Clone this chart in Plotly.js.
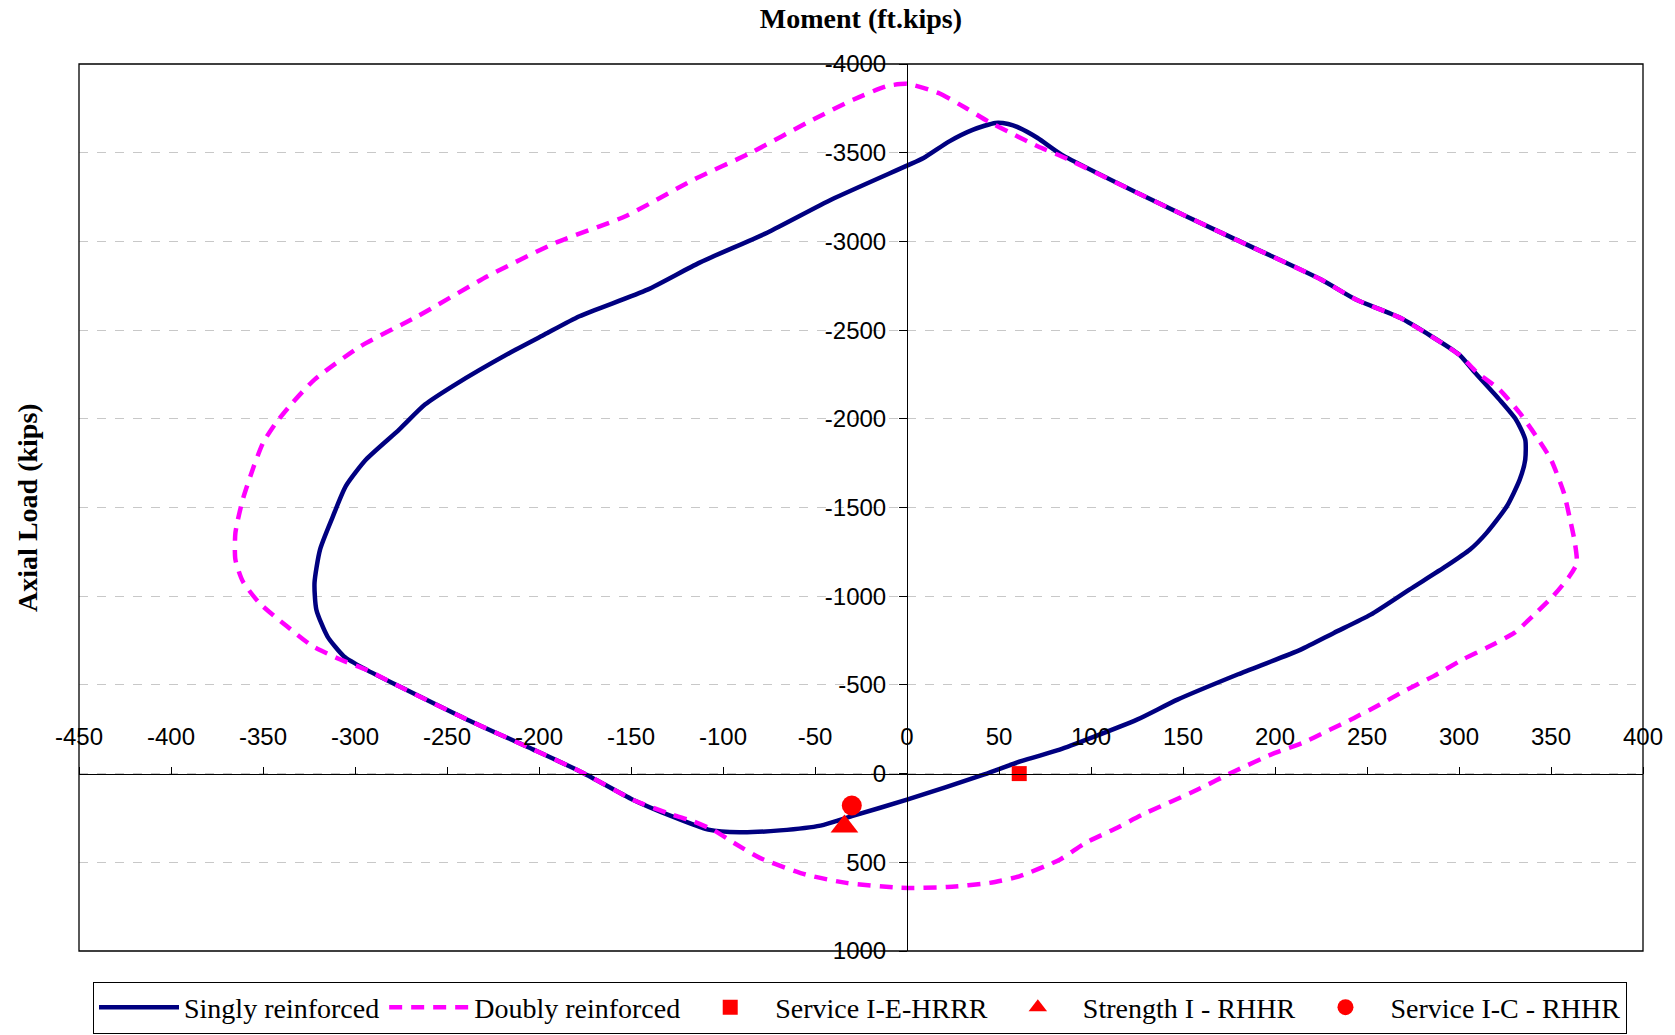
<!DOCTYPE html>
<html>
<head>
<meta charset="utf-8">
<script src="https://cdn.plot.ly/plotly-3.0.1.min.js"></script>
<style>html,body{margin:0;padding:0;background:#fff}#chart{width:1675px;height:1035px}</style>
</head>
<body>
<div id="chart"></div>
<script>
// Singly reinforced interaction curve (moment ft.kips, axial load kips)
const singlyM = [0, 9, 23, 36, 48, 55, 61, 71, 84, 129, 173, 225, 244, 268, 300, 308, 322, 331, 336, 336, 333, 326, 315, 306, 293, 273, 252, 232, 214, 180, 147, 125, 100, 83, 62, 42, 0, -30, -47, -69, -91, -108, -128, -149, -176, -203, -239, -276, -294, -306, -315, -321, -322, -319, -312, -305, -294, -276, -262, -246, -216, -197, -178, -141, -113, -76, -41, 0];
const singlyP = [-3427, -3470, -3564, -3630, -3668, -3662, -3640, -3583, -3489, -3254, -3038, -2785, -2672, -2569, -2362, -2268, -2108, -1995, -1883, -1770, -1657, -1507, -1357, -1263, -1169, -1037, -896, -793, -699, -560, -417, -304, -201, -135, -70, 5, 147, 240, 293, 320, 331, 316, 240, 147, -4, -135, -304, -492, -586, -661, -774, -924, -1075, -1263, -1450, -1620, -1770, -1939, -2080, -2190, -2371, -2475, -2578, -2728, -2879, -3049, -3236, -3427];

// Doubly reinforced interaction curve
const doublyM = [0, 17, 32, 44, 57, 71, 86, 129, 173, 225, 244, 268, 300, 310, 322, 333, 342, 350, 357, 360, 363, 364, 360, 351, 340, 330, 315, 302, 286, 270, 257, 243, 228, 215, 200, 178, 158, 128, 114, 97, 83, 61, 45, 22, -3, -33, -55, -80, -94, -105, -116, -128, -149, -176, -203, -239, -276, -294, -308, -323, -337, -352, -361, -365, -365, -361, -355, -350, -343, -334, -322, -297, -266, -228, -191, -153, -116, -85, -51, -29, -11, 0];
const doublyP = [-3888, -3837, -3752, -3677, -3608, -3536, -3470, -3254, -3038, -2785, -2672, -2569, -2362, -2259, -2165, -2033, -1901, -1770, -1582, -1450, -1300, -1185, -1112, -999, -887, -793, -709, -643, -548, -464, -389, -314, -238, -173, -117, -13, 90, 231, 306, 391, 485, 579, 616, 639, 644, 616, 569, 475, 391, 320, 270, 230, 147, -4, -135, -304, -492, -586, -643, -718, -830, -962, -1084, -1206, -1357, -1545, -1732, -1864, -1977, -2090, -2221, -2409, -2578, -2803, -2992, -3142, -3348, -3499, -3687, -3800, -3875, -3888];

// Load cases
const serviceEM = [61];   const serviceEP = [0];
const strengthM = [-34];  const strengthP = [298];
const serviceCM = [-30];  const serviceCP = [180];

const seriesNames = ['Singly reinforced', 'Doubly reinforced', 'Service I-E-HRRR', 'Strength I - RHHR', 'Service I-C - RHHR'];

const xTicks = [-450, -400, -350, -300, -250, -200, -150, -100, -50, 0, 50, 100, 150, 200, 250, 300, 350, 400];
const yTicks = [-4000, -3500, -3000, -2500, -2000, -1500, -1000, -500, 0, 500, 1000];

const serif = 'Liberation Serif, Times New Roman, serif';
const sans = 'Liberation Sans, Arial, sans-serif';

const traces = [
  {x: singlyM, y: singlyP, name: seriesNames[0], mode: 'lines', type: 'scatter',
   line: {color: '#000080', width: 4.5, shape: 'spline', smoothing: 0.6}},
  {x: doublyM, y: doublyP, name: seriesNames[1], mode: 'lines', type: 'scatter',
   line: {color: '#FF00FF', width: 4.5, dash: '13px,9px', shape: 'spline', smoothing: 0.6}},
  {x: serviceEM, y: serviceEP, name: seriesNames[2], mode: 'markers', type: 'scatter',
   marker: {symbol: 'square', size: 15, color: '#FF0000'}},
  {x: strengthM, y: strengthP, name: seriesNames[3], mode: 'markers', type: 'scatter',
   marker: {symbol: 'triangle-up', size: 24, color: '#FF0000'}},
  {x: serviceCM, y: serviceCP, name: seriesNames[4], mode: 'markers', type: 'scatter',
   marker: {symbol: 'circle', size: 20, color: '#FF0000'}}
];

const layout = {
  width: 1675, height: 1035,
  margin: {l: 79, r: 32, t: 64, b: 84},
  paper_bgcolor: '#ffffff', plot_bgcolor: '#ffffff',
  showlegend: true,
  title: {text: '<b>Moment (ft.kips)</b>', font: {family: serif, size: 28, color: '#000'},
          x: 0.514, xref: 'container', xanchor: 'center', y: 0.982, yref: 'container', yanchor: 'middle'},
  xaxis: {
    range: [-450, 400], autorange: false,
    anchor: 'free', position: 0.2, side: 'top',
    tickmode: 'array', tickvals: xTicks, ticktext: xTicks.map(String),
    ticks: 'outside', ticklen: 7, tickcolor: '#000', tickwidth: 1,
    ticklabelstandoff: 12,
    showline: true, linecolor: '#000', linewidth: 1,
    showgrid: false, zeroline: false,
    tickfont: {family: sans, size: 24, color: '#000'}
  },
  yaxis: {
    range: [1000, -4000], autorange: false,
    anchor: 'free', position: 450 / 850, side: 'left',
    tickmode: 'array', tickvals: yTicks, ticktext: yTicks.map(String),
    ticks: 'outside', ticklen: 8, tickcolor: '#000', tickwidth: 1,
    ticklabelstandoff: 8,
    showline: true, linecolor: '#000', linewidth: 1,
    showgrid: true, gridcolor: '#c8c8c8', griddash: 'dash', gridwidth: 1,
    zeroline: false,
    tickfont: {family: sans, size: 24, color: '#000'}
  },
  shapes: [
    {type: 'rect', xref: 'paper', yref: 'paper', x0: 0, x1: 1, y0: 0, y1: 1,
     line: {color: '#000', width: 1.3}, fillcolor: 'rgba(0,0,0,0)', layer: 'above'}
  ],
  annotations: [
    {text: '<b>Axial Load (kips)</b>', textangle: -90, xref: 'paper', yref: 'paper',
     x: -0.033, y: 0.5, xanchor: 'center', yanchor: 'middle', showarrow: false,
     font: {family: serif, size: 28, color: '#000'}}
  ],
  legend: {
    orientation: 'h', xref: 'container', yref: 'container',
    x: 93 / 1675, xanchor: 'left', y: 1.5 / 1035, yanchor: 'bottom',
    bgcolor: '#ffffff', bordercolor: '#000', borderwidth: 1,
    font: {family: serif, size: 28, color: '#000'},
    itemwidth: 80, traceorder: 'normal'
  }
};

Plotly.newPlot('chart', traces, layout, {displayModeBar: false, staticPlot: true});
</script>
</body>
</html>
